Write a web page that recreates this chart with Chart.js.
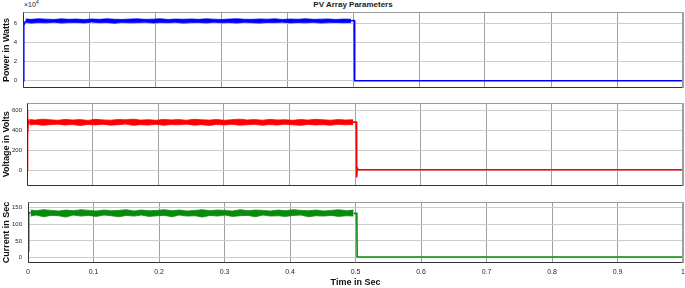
<!DOCTYPE html>
<html lang="en">
<head>
<meta charset="UTF-8">
<title>PV Array Parameters</title>
<script src="https://cdn.jsdelivr.net/npm/chart.js@4.4.1/dist/chart.umd.min.js"></script>
<style>
    body {
        margin: 0;
        background: #ffffff;
        width: 685px;
        height: 288px;
        overflow: hidden;
        position: relative;
        font-family: 'Liberation Sans', Arial, sans-serif;
    }
    canvas { position: absolute; left: 0; }
    #title {
        position: absolute; top: 0; left: 253px; width: 200px;
        text-align: center; font-weight: bold; font-size: 8px; line-height: 10px; color: #1a1a1a;
    }
    #expo {
        position: absolute; top: 0; left: 24px; font-size: 7px; line-height: 10px; color: #262626;
    }
    #expo sup { font-size: 5px; vertical-align: 3px; line-height: 0; }
</style>
</head>
<body>
<div id="title">PV Array Parameters</div>
<div id="expo">×10<sup>4</sup></div>
<canvas id="powerChart" width="685" height="92" style="top:0px"></canvas>
<canvas id="voltageChart" width="685" height="95" style="top:95px"></canvas>
<canvas id="currentChart" width="685" height="98" style="top:190px"></canvas>

<script>
    // sample times of the noisy steady band (0 - 0.5 s)
    const bandTime = [0.004, 0.012, 0.024, 0.035, 0.047, 0.058, 0.069, 0.081, 0.093, 0.104, 0.116,
        0.127, 0.139, 0.150, 0.162, 0.173, 0.185, 0.197, 0.208, 0.220, 0.231, 0.243, 0.255, 0.266,
        0.278, 0.289, 0.301, 0.312, 0.324, 0.336, 0.347, 0.359, 0.370, 0.382, 0.393, 0.405, 0.417,
        0.428, 0.440, 0.451, 0.463, 0.474, 0.486, 0.497];

    // power (W): upper / lower edge of the noise band
    const powerHigh = [64700, 64300, 64900, 64500, 64200, 64800, 64400, 64600, 64100, 64700, 64300,
        64900, 64400, 64200, 64600, 64800, 64300, 64500, 64900, 64200, 64600, 64400, 64700, 64300,
        64800, 64500, 64200, 64600, 64900, 64400, 64300, 64700, 64500, 64800, 64200, 64600, 64400,
        64900, 64300, 64500, 64700, 64200, 64600, 64400];
    const powerLow = [61200, 60400, 61000, 60700, 61300, 60500, 60900, 61100, 60600, 61400, 60800,
        61000, 60300, 61200, 60700, 60900, 61300, 60500, 61000, 60800, 61200, 60400, 60900, 61100,
        60600, 61300, 60700, 61000, 60500, 61200, 60800, 60400, 61100, 60900, 61300, 60600, 61000,
        60700, 61200, 60500, 60900, 61100, 60800, 61000];
    // start-up and switch-off parts
    const powerEdgeTime = [0, 0.0008, 0.0015, 0.004, 0.1, 0.497, 0.502, 0.5025, 1];
    const powerEdge = [0, 50000, 58000, 62800, null, 62800, 63000, 0, 0];
    const powerTicks = [0, 20000, 40000, 60000];

    // voltage (V)
    const voltHigh = [506, 500, 509, 503, 498, 507, 501, 505, 497, 508, 502, 499, 506, 503, 509,
        500, 504, 498, 507, 502, 505, 499, 508, 503, 500, 506, 498, 504, 509, 501, 505, 499, 507,
        502, 504, 498, 506, 500, 508, 503, 499, 505, 501, 504];
    const voltLow = [452, 458, 449, 455, 460, 451, 456, 447, 457, 452, 459, 450, 454, 461, 448,
        455, 451, 458, 449, 456, 453, 460, 450, 455, 447, 457, 452, 459, 450, 454, 458, 449, 456,
        451, 460, 453, 448, 457, 452, 455, 450, 458, 453, 456];
    const voltEdgeTime = [0, 0.0005, 0.001, 0.0018, 0.003, 0.004, 0.1, 0.497, 0.502, 0.5025, 0.5035, 0.505, 1];
    const voltEdge = [0, 600, 340, 470, 490, 480, null, 480, 480, -70, 25, 6, 6];
    const voltTicks = [0, 200, 400, 600];

    // current (A)
    const currHigh = [142, 140, 143, 141, 139, 142, 140, 143, 141, 139, 142, 140, 141, 143, 139,
        142, 140, 141, 143, 140, 142, 139, 141, 143, 140, 142, 141, 139, 143, 140, 142, 141, 139,
        142, 140, 143, 141, 140, 142, 139, 141, 143, 140, 142];
    const currLow = [124, 127, 122, 126, 125, 121, 127, 124, 126, 123, 127, 125, 122, 126, 124,
        127, 123, 125, 126, 122, 127, 124, 125, 121, 126, 124, 127, 123, 125, 126, 122, 127, 124,
        125, 123, 126, 127, 122, 125, 124, 126, 123, 125, 124];
    const currEdgeTime = [0, 0.0006, 0.0015, 0.004, 0.1, 0.497, 0.502, 0.5025, 1];
    const currEdge = [20, 130, 136, 132, null, 132, 132, 2, 2];
    const currTicks = [0, 50, 100, 150];

    const timeTicks = [0, 0.1, 0.2, 0.3, 0.4, 0.5, 0.6, 0.7, 0.8, 0.9, 1];

    function pts(ts, vs) {
        return ts.map((t, i) => ({ x: t, y: vs[i] }));
    }

    const boxPlugin = {
        id: 'box',
        afterDraw(chart) {
            const a = chart.chartArea, ctx = chart.ctx;
            const l = Math.round(a.left) + 0.5, r = Math.round(a.right) - 0.5;
            const t = Math.round(a.top) + 0.5, b = Math.round(a.bottom) - 0.5;
            ctx.save();
            ctx.lineWidth = 1;
            ctx.strokeStyle = '#9a9a9a';
            ctx.beginPath();
            ctx.moveTo(l, t); ctx.lineTo(r, t); ctx.lineTo(r, b);
            ctx.stroke();
            ctx.strokeStyle = '#333333';
            ctx.beginPath();
            ctx.moveTo(l, t); ctx.lineTo(l, b); ctx.lineTo(r, b);
            ctx.stroke();
            ctx.restore();
        }
    };

    const xTickFont = { family: "'Liberation Sans', Arial, sans-serif", size: 7 };
    const yTickFont = { family: "'Liberation Sans', Arial, sans-serif", size: 6 };
    const titleFont = { family: "'Liberation Sans', Arial, sans-serif", size: 9, weight: 'bold' };

    function makeChart(id, cfg) {
        const ds = [
            { data: pts(bandTime, cfg.high), borderColor: cfg.color, backgroundColor: cfg.color, borderWidth: 0.8, fill: false },
            { data: pts(bandTime, cfg.low), borderColor: cfg.color, backgroundColor: cfg.color, borderWidth: 0.8, fill: '-1' },
            { data: pts(cfg.edgeTime, cfg.edge), borderColor: cfg.color, borderWidth: 1.6, fill: false, spanGaps: false }
        ];
        return new Chart(document.getElementById(id), {
            type: 'line',
            data: { datasets: ds },
            options: {
                responsive: false,
                animation: false,
                devicePixelRatio: 1,
                elements: { point: { radius: 0 }, line: { tension: 0 } },
                layout: { padding: { top: cfg.padTop, bottom: cfg.padBottom, left: 0, right: 2 } },
                plugins: { legend: { display: false }, tooltip: { enabled: false } },
                scales: {
                    x: {
                        type: 'linear', min: 0, max: 1,
                        afterBuildTicks: s => { s.ticks = timeTicks.map(v => ({ value: v })); },
                        afterFit: s => { s.height = cfg.xHeight; s.paddingLeft = 0; s.paddingRight = 0; },
                        grid: { color: '#a0a0a0', drawTicks: false },
                        border: { display: false },
                        ticks: { display: cfg.showX, font: xTickFont, color: '#262626', padding: 5, maxRotation: 0, callback: v => String(v) },
                        title: { display: cfg.showX, text: 'Time in Sec', font: titleFont, color: '#111', padding: { top: 0, bottom: 0 } }
                    },
                    y: {
                        min: cfg.yMin, max: cfg.yMax,
                        afterBuildTicks: s => { s.ticks = cfg.ticks.map(v => ({ value: v })); },
                        afterFit: s => { s.width = cfg.left; s.paddingTop = 0; s.paddingBottom = 0; },
                        grid: { color: '#cccccc', drawTicks: false },
                        border: { display: false },
                        ticks: {
                            font: yTickFont, color: '#262626',
                            padding: cfg.tickPad, callback: cfg.fmt || (v => String(v))
                        },
                        title: { display: true, text: cfg.yTitle, font: titleFont, color: '#111', padding: { top: 1, bottom: 0 } }
                    }
                }
            },
            plugins: [boxPlugin]
        });
    }

    makeChart('powerChart', {
        color: '#0000ff', high: powerHigh, low: powerLow, edgeTime: powerEdgeTime, edge: powerEdge,
        yMin: -7600, yMax: 72000, ticks: powerTicks, fmt: v => String(v / 10000), yTitle: 'Power in Watts',
        left: 23, tickPad: 6, padTop: 12, padBottom: 4, xHeight: 0, showX: false
    });

    makeChart('voltageChart', {
        color: '#ff0000', high: voltHigh, low: voltLow, edgeTime: voltEdgeTime, edge: voltEdge,
        yMin: -150, yMax: 670, ticks: voltTicks, yTitle: 'Voltage in Volts',
        left: 27, tickPad: 5, padTop: 8, padBottom: 4.5, xHeight: 0, showX: false
    });

    makeChart('currentChart', {
        color: '#0a8a0a', high: currHigh, low: currLow, edgeTime: currEdgeTime, edge: currEdge,
        yMin: -16, yMax: 166, ticks: currTicks, yTitle: 'Current in Sec',
        left: 28, tickPad: 6, padTop: 12, padBottom: 0, xHeight: 25, showX: true
    });
</script>
</body>
</html>
